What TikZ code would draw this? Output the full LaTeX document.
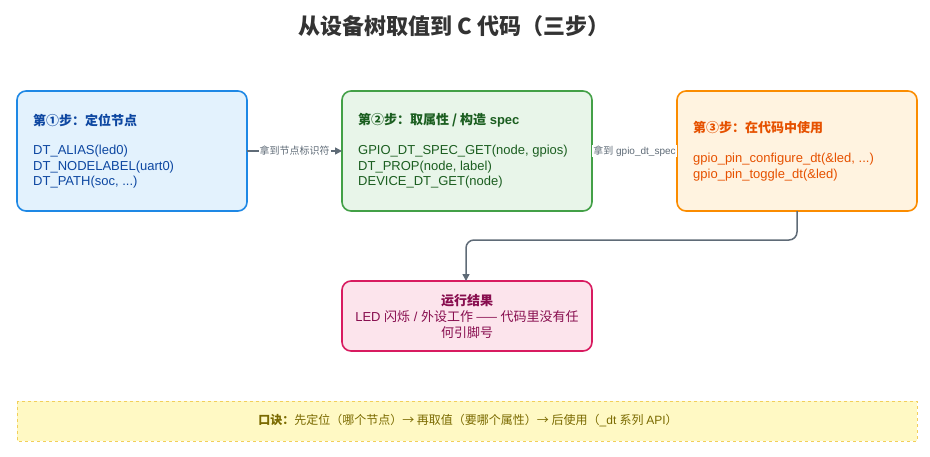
\documentclass[tikz,border=0pt]{standalone}
\usepackage{fontspec}
\setmainfont{Liberation Sans}
\newfontfamily\cjk{Noto Sans CJK SC}
\usetikzlibrary{arrows.meta}
\definecolor{bB}{HTML}{1E88E5}\definecolor{bF}{HTML}{E3F2FD}\definecolor{bT}{HTML}{0D47A1}
\definecolor{gB}{HTML}{43A047}\definecolor{gF}{HTML}{E8F5E9}\definecolor{gT}{HTML}{1B5E20}
\definecolor{oB}{HTML}{FB8C00}\definecolor{oF}{HTML}{FFF3E0}\definecolor{oT}{HTML}{E65100}
\definecolor{pB}{HTML}{D81B60}\definecolor{pF}{HTML}{FCE4EC}\definecolor{pT}{HTML}{880E4F}
\definecolor{yB}{HTML}{F2CF5B}\definecolor{yF}{HTML}{FFF9C4}\definecolor{yT}{HTML}{7A6A00}
\definecolor{aC}{HTML}{5F6B77}\definecolor{tC}{HTML}{333333}
\begin{document}
\begin{tikzpicture}[x=1pt,y=-1pt,
  box/.style={draw,line width=1.6pt,rounded corners=9pt,inner sep=0pt},
  txt/.style={align=left,anchor=west,inner sep=0pt,font=\fontsize{13}{15.5}\selectfont},
  conn/.style={draw=aC,line width=1.5pt,-{Triangle[length=7pt,width=7pt]}},
  lab/.style={fill=white,inner sep=1pt,text=aC,font=\fontsize{10}{11}\selectfont}]
\useasboundingbox (0,0) rectangle (930,456);
\node[text=tC] (title) at (454,26) {\cjk\bfseries\fontsize{22}{25}\selectfont 从设备树取值到 C 代码（三步）};
\path[box,draw=bB,fill=bF] (17,91) rectangle (247,211);
\path[box,draw=gB,fill=gF] (342,91) rectangle (592,211);
\path[box,draw=oB,fill=oF] (677,91) rectangle (917,211);
\path[box,draw=pB,fill=pF] (342,281) rectangle (592,351);
\path[draw=yB,fill=yF,line width=0.8pt,dashed] (17,401) rectangle (917,441);
\coordinate (b1e) at (247,151); \coordinate (b2w) at (342,151);
\coordinate (b2e) at (592,151); \coordinate (b3w) at (677,151);
\coordinate (b3s) at (797,211); \coordinate (b4n) at (466,281);
\node[txt,text=bT] (t1a) at (33,120) {\cjk\bfseries 第①步：定位节点};
\node[txt,text=bT] (t1b) at (33,167) {DT\_ALIAS(led0)\\DT\_NODELABEL(uart0)\\DT\_PATH(soc, ...)};
\node[txt,text=gT] (t2a) at (358,120) {\bfseries{\cjk 第②步：取属性 / 构造} spec};
\node[txt,text=gT] (t2b) at (358,167) {GPIO\_DT\_SPEC\_GET(node, gpios)\\DT\_PROP(node, label)\\DEVICE\_DT\_GET(node)};
\node[txt,text=oT] (t3a) at (693,128) {\cjk\bfseries 第③步：在代码中使用};
\node[txt,text=oT] (t3b) at (693,167) {gpio\_pin\_configure\_dt(\&led, ...)\\gpio\_pin\_toggle\_dt(\&led)};
\node[align=center,text=pT,font=\fontsize{13}{16}\selectfont] (t4) at (467,316) {{\cjk\bfseries 运行结果}\\LED {\cjk 闪烁} / {\cjk 外设工作 —— 代码里没有任}\\{\cjk 何引脚号}};
\node[text=yT,font=\fontsize{12}{14}\selectfont] (t5) at (468,421) {\cjk{\bfseries 口诀：}先定位（哪个节点）→ 再取值（要哪个属性）→ 后使用（\rmfamily\_dt \cjk 系列 \rmfamily API\cjk ）};
\draw[conn] (b1e) -- node[lab]{\cjk 拿到节点标识符} (b2w);
\draw[conn] (b2e) -- node[lab]{{\cjk 拿到} gpio\_dt\_spec} (b3w);
\draw[conn,rounded corners=8pt] (b3s) -- (797,240) -- (466,240) -- (b4n);
\end{tikzpicture}
\end{document}
